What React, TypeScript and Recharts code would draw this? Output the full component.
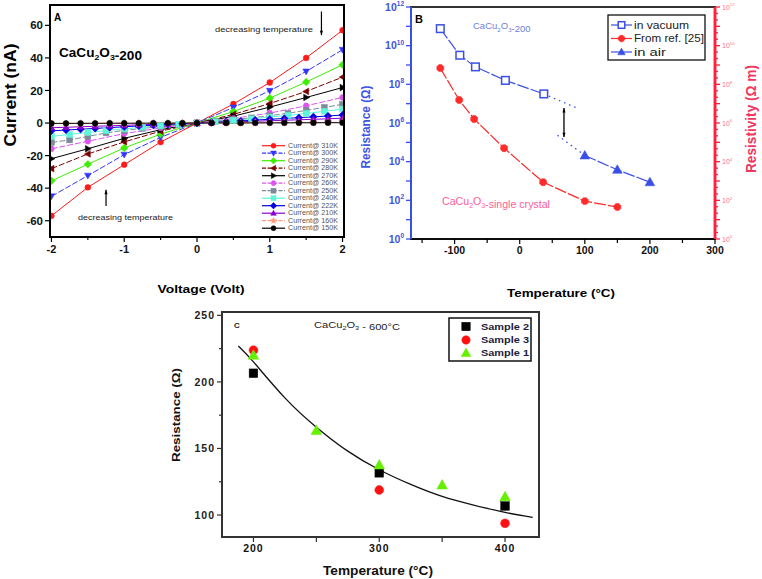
import React from "react";
import { LineChart, Line, XAxis, YAxis } from "recharts";

const FONT = "'Liberation Sans', Arial, sans-serif";

// ---- panel A: I-V curves at different temperatures ----
const vHalf = [-2, -1.5, -1, -0.5, 0, 0.5, 1, 1.5, 2];
const vQuarter = [-2, -1.75, -1.5, -1.25, -1, -0.75, -0.5, -0.25, 0, 0.25, 0.5, 0.75, 1, 1.25, 1.5, 1.75, 2];
const vFifth = [-2, -1.8, -1.6, -1.4, -1.2, -1, -0.8, -0.6, -0.4, -0.2, 0, 0.2, 0.4, 0.6, 0.8, 1, 1.2, 1.4, 1.6, 1.8, 2];

const i310 = [-57, -39.5, -25.6, -11.7, 0, 11.7, 24.9, 40, 57];
const i300 = [-45, -32.3, -19.4, -8.8, 0, 9.6, 19.8, 31.7, 45];
const i290 = [-35.5, -25.3, -15.3, -6.8, 0, 7.1, 15.3, 25.2, 35.8];
const i280 = [-28, -19, -11.6, -5, 0, 5.3, 12, 19.4, 28.2];
const i270 = [-21.9, -15.8, -9.4, -4.1, 0, 4.2, 9.8, 15.7, 21.8];
const i260 = [-15.8, -11.2, -6.5, -3, 0, 2.8, 6.1, 10.6, 15.7];
const i250 = [-11.9, -10.4, -8.2, -6.1, -4.5, -3.3, -2.2, -1.1, 0, 1, 2, 3.2, 4.5, 6, 7.8, 9.6, 11.5];
const i240 = [-8.2, -7, -5.8, -4.6, -3.6, -2.6, -1.7, -0.8, 0, 0.8, 1.7, 2.6, 3.6, 4.7, 5.9, 7.2, 8.6];
const i222 = [-4.8, -4.3, -3.8, -3.3, -2.8, -2.3, -1.8, -1.3, -0.9, -0.4, 0, 0.4, 0.9, 1.3, 1.8, 2.3, 2.8, 3.3, 3.8, 4.3, 4.9];
const i210 = [-2.9, -2.6, -2.3, -2, -1.7, -1.4, -1.1, -0.8, -0.6, -0.3, 0, 0.3, 0.6, 0.8, 1.1, 1.4, 1.7, 2, 2.3, 2.6, 3];
const i160 = [-0.4, -0.35, -0.3, -0.3, -0.25, -0.2, -0.15, -0.1, -0.1, -0.05, 0, 0.05, 0.1, 0.1, 0.15, 0.2, 0.25, 0.3, 0.35, 0.4, 0.5];
const i150 = [-0.2, -0.2, -0.15, -0.15, -0.1, -0.1, -0.1, -0.05, -0.05, 0, 0, 0, 0.05, 0.05, 0.1, 0.1, 0.1, 0.15, 0.15, 0.2, 0.2];

const aXTicks = [-2, -1.5, -1, -0.5, 0, 0.5, 1, 1.5, 2];
const aXLabels = [-2, -1, 0, 1, 2];
const aYTicks = [-60, -40, -20, 0, 20, 40, 60];

// arrows "decreasing temperature"
const aArrowTopV = [1.71, 1.71];
const aArrowTopI = [68.5, 54];
const aArrowBotV = [-1.25, -1.25];
const aArrowBotI = [-51, -41];

// ---- panel B: resistance vs temperature (log) ----
const tVacuum = [-122, -92, -68, -22, 37];
const rVacuum = [7.6e10, 3.2e9, 8e8, 1.6e8, 3.2e7];
const tRef = [-122, -93, -70, -24, 36, 100, 150];
const rRef = [6.9e8, 1.55e7, 1.6e6, 5e4, 870, 91, 45];
const tAir = [100, 150, 200];
const rAir = [2.1e4, 3.8e3, 870];
const tVacExtra = [37, 86];
const rVacExtra = [3.2e7, 6.3e6];
const tAirExtra = [58, 100];
const rAirExtra = [2.3e5, 2.1e4];
const tArrow = [68, 68];
const rArrow = [5.9e6, 1.86e5];

const bXTicks = [-150, -100, -50, 0, 50, 100, 150, 200, 250, 300];
const bXLabels = [-100, 0, 100, 200, 300];
const bDecades = [1, 1e1, 1e2, 1e3, 1e4, 1e5, 1e6, 1e7, 1e8, 1e9, 1e10, 1e11, 1e12];

// ---- panel C: resistance of three samples ----
const tS2 = [200, 300, 400];
const rS2 = [206.5, 131.7, 106.8];
const tS3 = [200, 300, 400];
const rS3 = [223.8, 118.8, 93.8];
const tS1 = [200, 250, 300, 350, 400];
const rS1 = [220, 163.5, 137.5, 122.5, 113.7];
const tFit = [188, 200, 225, 250, 275, 300, 325, 350, 375, 400, 422];
const rFit = [227, 215, 188, 166, 148, 134, 123, 114, 107.5, 102, 98.3];

const cXTicks = [200, 250, 300, 350, 400];
const cXLabels = [200, 300, 400];
const cYTicks = [100, 125, 150, 175, 200, 225, 250];
const cYLabels = [100, 150, 200, 250];

const rows = (xs: number[], ys: number[], kx: string, ky: string) =>
  xs.map((x, k) => ({ [kx]: x, [ky]: ys[k] }));

type Shape = "circle" | "square" | "up" | "down" | "left" | "right" | "diamond" | "star" | "hex" | "oct";

const ivSeries: { name: string; v: number[]; i: number[]; color: string; shape: Shape; dash?: string }[] = [
  { name: "Current@ 310K", v: vHalf, i: i310, color: "#ff1a1a", shape: "circle" },
  { name: "Current@ 300K", v: vHalf, i: i300, color: "#3434ff", shape: "down", dash: "6 2" },
  { name: "Current@ 290K", v: vHalf, i: i290, color: "#3cee00", shape: "diamond" },
  { name: "Current@ 280K", v: vHalf, i: i280, color: "#7a0000", shape: "left", dash: "6 2" },
  { name: "Current@ 270K", v: vHalf, i: i270, color: "#000000", shape: "right" },
  { name: "Current@ 260K", v: vHalf, i: i260, color: "#dd55ee", shape: "hex", dash: "6 2" },
  { name: "Current@ 250K", v: vQuarter, i: i250, color: "#7d8a99", shape: "square", dash: "6 2" },
  { name: "Current@ 240K", v: vQuarter, i: i240, color: "#5ff5d8", shape: "square" },
  { name: "Current@ 222K", v: vFifth, i: i222, color: "#0000dd", shape: "diamond" },
  { name: "Current@ 210K", v: vFifth, i: i210, color: "#8a00cc", shape: "up" },
  { name: "Current@ 160K", v: vFifth, i: i160, color: "#ff9a7a", shape: "star", dash: "6 2" },
  { name: "Current@ 150K", v: vFifth, i: i150, color: "#000000", shape: "circle" },
];

const pts = (cx: number, cy: number, r: number, arr: number[][]) =>
  arr.map(([a, b]) => `${cx + a * r},${cy + b * r}`).join(" ");

const ring = (n: number, rot: number, inner?: number) => {
  const out: number[][] = [];
  const m = inner ? n * 2 : n;
  for (let k = 0; k < m; k++) {
    const ang = rot + (k * Math.PI * 2) / m;
    const rr = inner && k % 2 === 1 ? inner : 1;
    out.push([Math.cos(ang) * rr, Math.sin(ang) * rr]);
  }
  return out;
};

function Mark({ cx, cy, shape, color, r, open }: { cx?: number; cy?: number; shape: Shape; color: string; r: number; open?: boolean }) {
  if (cx == null || cy == null || isNaN(cx) || isNaN(cy)) return null;
  const common = { fill: open ? "#fff" : color, stroke: color, strokeWidth: open ? 1.5 : 0.5 };
  switch (shape) {
    case "circle":
      return <circle cx={cx} cy={cy} r={r} {...common} />;
    case "square":
      return <rect x={cx - r} y={cy - r} width={2 * r} height={2 * r} {...common} />;
    case "up":
      return <polygon points={pts(cx, cy, r, [[0, -1.2], [1.15, 0.85], [-1.15, 0.85]])} {...common} />;
    case "down":
      return <polygon points={pts(cx, cy, r, [[0, 1.2], [1.15, -0.85], [-1.15, -0.85]])} {...common} />;
    case "left":
      return <polygon points={pts(cx, cy, r, [[-1.2, 0], [0.85, -1.15], [0.85, 1.15]])} {...common} />;
    case "right":
      return <polygon points={pts(cx, cy, r, [[1.2, 0], [-0.85, -1.15], [-0.85, 1.15]])} {...common} />;
    case "diamond":
      return <polygon points={pts(cx, cy, r, [[0, -1.3], [1.3, 0], [0, 1.3], [-1.3, 0]])} {...common} />;
    case "star":
      return <polygon points={pts(cx, cy, r * 1.3, ring(5, -Math.PI / 2, 0.45))} {...common} />;
    case "hex":
      return <polygon points={pts(cx, cy, r * 1.1, ring(6, 0))} {...common} />;
    case "oct":
      return <polygon points={pts(cx, cy, r * 1.05, ring(8, Math.PI / 8))} {...common} />;
  }
  return null;
}

const markDot = (id: string, shape: Shape, color: string, r: number, open?: boolean) => (p: any) =>
  <Mark key={`${id}-${p.index}`} cx={p.cx} cy={p.cy} shape={shape} color={color} r={r} open={open} />;

const arrowDots = (id: string, heads: Record<number, "up" | "down">, color: string, s: number) => (p: any) => {
  const h = heads[p.index];
  if (!h || p.cx == null) return <g key={`${id}-${p.index}`} />;
  const d = h === "up" ? -1 : 1;
  return (
    <polygon
      key={`${id}-${p.index}`}
      points={`${p.cx},${p.cy} ${p.cx - s * 0.6},${p.cy - d * s * 1.7} ${p.cx + s * 0.6},${p.cy - d * s * 1.7}`}
      fill={color}
    />
  );
};

// ---- tick renderers ----
const bottomTick = (labels: number[], color: string, fs: number, minorLen = 3, spacing = 0) => (p: any) => {
  const val = p.payload.value;
  const major = labels.includes(val);
  return (
    <g>
      <line x1={p.x} y1={p.y} x2={p.x} y2={p.y + (major ? 5 : minorLen)} stroke={color} strokeWidth={1.2} />
      {major && (
        <text x={p.x} y={p.y + 7 + fs * 0.8} textAnchor="middle" fontSize={fs} fontWeight="bold" fill="#111"
          fontFamily={FONT} letterSpacing={spacing}>
          {val}
        </text>
      )}
    </g>
  );
};

const leftTick = (labels: number[], color: string, fs: number, textColor = "#111", spacing = 0) => (p: any) => {
  const val = p.payload.value;
  const major = labels.includes(val);
  return (
    <g>
      <line x1={p.x} y1={p.y} x2={p.x - (major ? 5 : 3)} y2={p.y} stroke={color} strokeWidth={1.2} />
      {major && (
        <text x={p.x - 7} y={p.y + fs * 0.36} textAnchor="end" fontSize={fs} fontWeight="bold" fill={textColor}
          fontFamily={FONT} letterSpacing={spacing}>
          {val}
        </text>
      )}
    </g>
  );
};

const logTick = (side: "left" | "right", color: string, textColor: string, fs: number, bold: boolean) => (p: any) => {
  const val = p.payload.value;
  const e = Math.log10(val);
  const whole = Math.abs(e - Math.round(e)) < 1e-6;
  const exp = Math.round(e);
  const labelled = whole && exp % 2 === 0;
  const len = whole ? 5 : 3;
  const dir = side === "left" ? -1 : 1;
  return (
    <g>
      <line x1={p.x} y1={p.y} x2={p.x + dir * len} y2={p.y} stroke={color} strokeWidth={1.3} />
      {labelled && (
        <text
          x={p.x + dir * 7}
          y={p.y + fs * 0.36}
          textAnchor={side === "left" ? "end" : "start"}
          fontSize={fs}
          fontWeight={bold ? "bold" : "normal"}
          fill={textColor}
          fontFamily={FONT}
        >
          10
          <tspan dy={-fs * 0.45} fontSize={fs * 0.62}>{exp}</tspan>
        </text>
      )}
    </g>
  );
};

const bRightTicks = bDecades.flatMap((d) => (d < 1e12 ? [d, d * 2.154, d * 4.642] : [d]));

const Chem = ({ sub, fs }: { sub: number; fs: number }) => (
  <>
    CaCu
    <tspan dy={sub} fontSize={fs * 0.65}>2</tspan>
    <tspan dy={-sub}>O</tspan>
    <tspan dy={sub} fontSize={fs * 0.65}>3</tspan>
    <tspan dy={-sub}></tspan>
  </>
);

function PanelA() {
  return (
    <div style={{ position: "absolute", left: 0, top: 0 }}>
      <LineChart width={360} height={300} margin={{ top: 5, right: 16, bottom: 0, left: 0 }}>
        <XAxis
          type="number"
          dataKey="v"
          domain={[-2.02, 2.02]}
          ticks={aXTicks}
          interval={0}
          allowDataOverflow
          height={63}
          tickSize={0}
          tickMargin={0}
          tickLine={false}
          axisLine={{ stroke: "#000", strokeWidth: 1.5 }}
          tick={bottomTick(aXLabels, "#000", 11)}
        />
        <YAxis
          type="number"
          domain={[-70, 72.5]}
          ticks={aYTicks}
          interval={0}
          allowDataOverflow
          width={50}
          tickSize={0}
          tickMargin={0}
          tickLine={false}
          axisLine={{ stroke: "#000", strokeWidth: 1.5 }}
          tick={leftTick(aYTicks, "#000", 11.5)}
        />
        {ivSeries.map((s, k) => (
          <Line
            key={s.name}
            data={rows(s.v, s.i, "v", "i")}
            dataKey="i"
            type="linear"
            stroke={s.color}
            strokeWidth={1}
            strokeDasharray={s.dash}
            dot={markDot(`a${k}`, s.shape, s.color, 2.9)}
            activeDot={false}
            isAnimationActive={false}
          />
        ))}
        <Line data={rows(aArrowTopV, aArrowTopI, "v", "i")} dataKey="i" stroke="#000" strokeWidth={1.2}
          dot={arrowDots("at", { 1: "down" }, "#000", 2.6)} activeDot={false} isAnimationActive={false} />
        <Line data={rows(aArrowBotV, aArrowBotI, "v", "i")} dataKey="i" stroke="#000" strokeWidth={1.2}
          dot={arrowDots("ab", { 1: "up" }, "#000", 2.6)} activeDot={false} isAnimationActive={false} />
      </LineChart>
    </div>
  );
}

const BLUE = "#3a4fe6";
const RED = "#ff2a2a";

function PanelB() {
  return (
    <div style={{ position: "absolute", left: 370, top: 0 }}>
      <LineChart width={392} height={300} margin={{ top: 7, right: 0, bottom: 0, left: 0 }}>
        <XAxis
          type="number"
          dataKey="t"
          domain={[-167, 300]}
          ticks={bXTicks}
          interval={0}
          allowDataOverflow
          height={61}
          tickSize={0}
          tickMargin={0}
          tickLine={false}
          axisLine={{ stroke: "#000", strokeWidth: 1.5 }}
          tick={bottomTick(bXLabels, "#000", 10.5, 4)}
        />
        <YAxis
          yAxisId="l"
          type="number"
          scale="log"
          domain={[1, 1e12]}
          ticks={bDecades}
          interval={0}
          allowDataOverflow
          width={41}
          tickSize={0}
          tickMargin={0}
          tickLine={false}
          axisLine={{ stroke: BLUE, strokeWidth: 2 }}
          tick={logTick("left", BLUE, "#3f55e0", 10.5, true)}
        />
        <YAxis
          yAxisId="r"
          orientation="right"
          type="number"
          scale="log"
          domain={[1, 1e12]}
          ticks={bRightTicks}
          interval={0}
          allowDataOverflow
          width={47}
          tickSize={0}
          tickMargin={0}
          tickLine={false}
          axisLine={{ stroke: "#ff1f3f", strokeWidth: 2.5 }}
          tick={logTick("right", "#ff1f3f", "#ff6f8a", 7, false)}
        />
        <Line yAxisId="l" data={rows(tVacExtra, rVacExtra, "t", "r")} dataKey="r" stroke={BLUE} strokeWidth={1.3}
          strokeDasharray="1.5 4" dot={false} activeDot={false} isAnimationActive={false} />
        <Line yAxisId="l" data={rows(tAirExtra, rAirExtra, "t", "r")} dataKey="r" stroke={BLUE} strokeWidth={1.3}
          strokeDasharray="1.5 4" dot={false} activeDot={false} isAnimationActive={false} />
        <Line yAxisId="l" data={rows(tArrow, rArrow, "t", "r")} dataKey="r" stroke="#000" strokeWidth={1.3}
          dot={arrowDots("ba", { 0: "up", 1: "down" }, "#000", 2.6)} activeDot={false} isAnimationActive={false} />
        <Line yAxisId="r" data={rows(tRef, rRef, "t", "r")} dataKey="r" stroke={RED} strokeWidth={1.2}
          strokeDasharray="12 2" dot={markDot("br", "oct", RED, 3.6)} activeDot={false} isAnimationActive={false} />
        <Line yAxisId="l" data={rows(tVacuum, rVacuum, "t", "r")} dataKey="r" stroke={BLUE} strokeWidth={1.2}
          strokeDasharray="12 2" dot={markDot("bv", "square", BLUE, 3.8, true)} activeDot={false} isAnimationActive={false} />
        <Line yAxisId="l" data={rows(tAir, rAir, "t", "r")} dataKey="r" stroke={BLUE} strokeWidth={1.2}
          strokeDasharray="12 2" dot={markDot("bair", "up", BLUE, 4.2)} activeDot={false} isAnimationActive={false} />
      </LineChart>
    </div>
  );
}

function PanelC() {
  return (
    <div style={{ position: "absolute", left: 170, top: 290 }}>
      <LineChart width={400} height={289} margin={{ top: 22, right: 31, bottom: 0, left: 0 }}>
        <XAxis
          type="number"
          dataKey="t"
          domain={[175, 427]}
          ticks={cXTicks}
          interval={0}
          allowDataOverflow
          height={42}
          tickSize={0}
          tickMargin={0}
          tickLine={false}
          axisLine={{ stroke: "#333", strokeWidth: 1.5 }}
          tick={bottomTick(cXLabels, "#333", 10.5, 5, 1)}
        />
        <YAxis
          type="number"
          domain={[83.5, 252.5]}
          ticks={cYTicks}
          interval={0}
          allowDataOverflow
          width={52}
          tickSize={0}
          tickMargin={0}
          tickLine={false}
          axisLine={{ stroke: "#333", strokeWidth: 1.5 }}
          tick={leftTick(cYLabels, "#333", 10.5, "#222", 1)}
        />
        <Line data={rows(tFit, rFit, "t", "r")} dataKey="r" type="natural" stroke="#111" strokeWidth={1.3}
          dot={false} activeDot={false} isAnimationActive={false} />
        <Line data={rows(tS2, rS2, "t", "r")} dataKey="r" stroke="none" dot={markDot("c2", "square", "#000", 4.3)}
          activeDot={false} isAnimationActive={false} />
        <Line data={rows(tS3, rS3, "t", "r")} dataKey="r" stroke="none" dot={markDot("c3", "circle", "#ff1010", 4.4)}
          activeDot={false} isAnimationActive={false} />
        <Line data={rows(tS1, rS1, "t", "r")} dataKey="r" stroke="none" dot={markDot("c1", "up", "#66f000", 4.6)}
          activeDot={false} isAnimationActive={false} />
      </LineChart>
    </div>
  );
}

function Overlay() {
  const t = { fontFamily: FONT };
  return (
    <svg width={762} height={579} style={{ position: "absolute", left: 0, top: 0, pointerEvents: "none" }}>
      {/* plot-area frames */}
      <rect x={50} y={5} width={294} height={232} fill="none" stroke="#000" strokeWidth={2} />
      <rect x={411} y={7} width={304} height={232} fill="none" stroke="#000" strokeWidth={1.6} />
      <rect x={222} y={312} width={317} height={225} fill="none" stroke="#333" strokeWidth={2} />

      {/* panel A */}
      <text x={54} y={21} fontSize={10} fontWeight="bold" {...t}>A</text>
      <text x={59} y={57} fontSize={12} fontWeight="bold" textLength={83} lengthAdjust="spacingAndGlyphs" {...t}>
        <Chem sub={3} fs={12} />-200
      </text>
      <text x={215} y={32} fontSize={7.5} textLength={98} lengthAdjust="spacingAndGlyphs" fill="#222" {...t}>decreasing temperature</text>
      <text x={78} y={220} fontSize={7.5} textLength={95} lengthAdjust="spacingAndGlyphs" fill="#222" {...t}>decreasing temperature</text>
      <text transform="translate(16,95) rotate(-90)" textAnchor="middle" fontSize={16} fontWeight="bold" textLength={103}
        lengthAdjust="spacingAndGlyphs" {...t}>Current (nA)</text>
      <text x={201} y={293} textAnchor="middle" fontSize={11} fontWeight="bold" textLength={87} lengthAdjust="spacingAndGlyphs" {...t}>
        Voltage (Volt)
      </text>
      {ivSeries.map((s, k) => {
        const y = 145.7 + k * 7.5;
        return (
          <g key={s.name}>
            <line x1={262} x2={285} y1={y} y2={y} stroke={s.color} strokeWidth={1.2} strokeDasharray={s.dash ? "4 1.5" : undefined} />
            <Mark cx={273.5} cy={y} shape={s.shape} color={s.color} r={2.5} />
            <text x={288} y={y + 2.2} fontSize={6.3} fill="#555" textLength={50} lengthAdjust="spacingAndGlyphs" {...t}>{s.name}</text>
          </g>
        );
      })}

      {/* panel B */}
      <line x1={411} x2={411} y1={7} y2={239} stroke={BLUE} strokeWidth={2} />
      <line x1={715} x2={715} y1={7} y2={239} stroke="#ff1f3f" strokeWidth={2.5} />
      <text transform="translate(370,127) rotate(-90)" textAnchor="middle" fontSize={13} fontWeight="bold" fill="#3d55e6"
        textLength={83} lengthAdjust="spacingAndGlyphs" {...t}>Resistance (Ω)</text>
      <text transform="translate(756,119) rotate(-90)" textAnchor="middle" fontSize={14} fontWeight="bold" fill="#f0365c"
        textLength={108} lengthAdjust="spacingAndGlyphs" {...t}>Resistivity (Ω m)</text>
      <text x={415} y={23} fontSize={11} fontWeight="bold" {...t}>B</text>
      <text x={473} y={29} fontSize={9.5} fill="#6c7fd8" {...t}>
        <Chem sub={2.5} fs={9.5} />-200
      </text>
      <text x={442} y={205} fontSize={10} fill="#ff5c9a" textLength={108} lengthAdjust="spacingAndGlyphs" {...t}>
        <Chem sub={2.5} fs={10} />-single crystal
      </text>
      <text x={561} y={297} textAnchor="middle" fontSize={11} fontWeight="bold" textLength={108} lengthAdjust="spacingAndGlyphs" {...t}>
        Temperature (°C)
      </text>
      <rect x={608} y={15} width={97} height={45} fill="#fff" stroke="#111" strokeWidth={1.3} />
      {[
        { y: 25, label: "in vacuum", len: 55, color: BLUE, shape: "square" as Shape, open: true },
        { y: 38.5, label: "From ref. [25]", len: 70, color: RED, shape: "oct" as Shape, open: false },
        { y: 52, label: "in air", len: 32, color: BLUE, shape: "up" as Shape, open: false },
      ].map((e) => (
        <g key={e.label}>
          <line x1={611} x2={632} y1={e.y} y2={e.y} stroke={e.color} strokeWidth={1.2} />
          <Mark cx={621.5} cy={e.y} shape={e.shape} color={e.color} r={3.3} open={e.open} />
          <text x={634} y={e.y + 3.5} fontSize={10} fill="#222" textLength={e.len} lengthAdjust="spacingAndGlyphs" {...t}>{e.label}</text>
        </g>
      ))}

      {/* panel C */}
      <text x={234} y={328} fontSize={8} fontWeight="bold" fill="#222" {...t}>C</text>
      <text x={314} y={328} fontSize={8.5} fill="#222" textLength={86} lengthAdjust="spacingAndGlyphs" {...t}>
        <Chem sub={2} fs={8.5} /> - 600°C
      </text>
      <rect x={449} y={318} width={82} height={43} fill="#fff" stroke="#111" strokeWidth={1.5} />
      {[
        { y: 326.5, label: "Sample 2", color: "#000", shape: "square" as Shape },
        { y: 340, label: "Sample 3", color: "#ff1010", shape: "circle" as Shape },
        { y: 353, label: "Sample 1", color: "#66f000", shape: "up" as Shape },
      ].map((e) => (
        <g key={e.label}>
          <Mark cx={466} cy={e.y} shape={e.shape} color={e.color} r={4.2} />
          <text x={481} y={e.y + 3.2} fontSize={8.5} fontWeight="bold" fill="#1c1c3c" textLength={48} lengthAdjust="spacingAndGlyphs" {...t}>
            {e.label}
          </text>
        </g>
      ))}
      <text x={378} y={575} textAnchor="middle" fontSize={12} fontWeight="bold" textLength={110} lengthAdjust="spacingAndGlyphs" fill="#111" {...t}>
        Temperature (°C)
      </text>
      <text transform="translate(180,415) rotate(-90)" textAnchor="middle" fontSize={11.5} fontWeight="bold" fill="#111"
        textLength={94} lengthAdjust="spacingAndGlyphs" {...t}>Resistance (Ω)</text>
    </svg>
  );
}

export default function App() {
  return (
    <div style={{ position: "absolute", left: 0, top: 0, width: 762, height: 579, background: "#fff", fontFamily: FONT }}>
      <PanelA />
      <PanelB />
      <PanelC />
      <Overlay />
    </div>
  );
}
